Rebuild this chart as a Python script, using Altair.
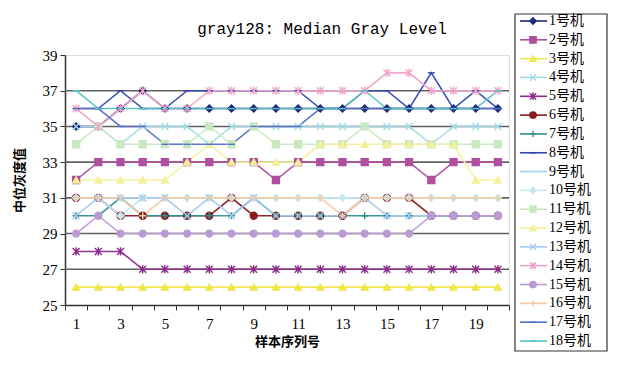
import altair as alt
import pandas as pd

samples = list(range(1, 21))
series_names = [f"{i}号机" for i in range(1, 19)]
chart_title = "gray128: Median Gray Level"

s1 = [35, 35, 36, 37, 36, 36, 36, 36, 36, 36, 36, 36, 36, 36, 36, 36, 36, 36, 36, 36]
s2 = [32, 33, 33, 33, 33, 33, 33, 33, 33, 32, 33, 33, 33, 33, 33, 33, 32, 33, 33, 33]
s3 = [26, 26, 26, 26, 26, 26, 26, 26, 26, 26, 26, 26, 26, 26, 26, 26, 26, 26, 26, 26]
s4 = [35, 35, 34, 35, 35, 35, 34, 35, 35, 35, 35, 35, 35, 35, 35, 35, 34, 35, 35, 35]
s5 = [28, 28, 28, 27, 27, 27, 27, 27, 27, 27, 27, 27, 27, 27, 27, 27, 27, 27, 27, 27]
s6 = [31, 31, 30, 30, 30, 30, 30, 31, 30, 30, 30, 30, 30, 31, 31, 31, 30, 30, 30, 30]
s7 = [30, 30, 31, 30, 30, 30, 30, 30, 31, 30, 30, 30, 30, 30, 30, 30, 30, 30, 30, 30]
s8 = [36, 36, 37, 36, 36, 37, 37, 37, 37, 37, 37, 36, 36, 37, 37, 36, 38, 36, 37, 36]
s9 = [31, 31, 31, 31, 31, 31, 31, 31, 31, 31, 31, 31, 31, 31, 31, 31, 31, 31, 31, 31]
s10 = [31, 31, 30, 31, 31, 31, 31, 31, 31, 31, 31, 31, 31, 31, 31, 31, 31, 31, 31, 31]
s11 = [34, 35, 34, 34, 34, 34, 35, 34, 35, 34, 34, 34, 34, 35, 34, 34, 34, 34, 34, 34]
s12 = [32, 32, 32, 32, 32, 33, 34, 33, 33, 33, 33, 34, 34, 34, 34, 34, 34, 34, 32, 32]
s13 = [30, 31, 31, 31, 31, 30, 31, 30, 31, 30, 30, 30, 30, 31, 30, 30, 30, 30, 30, 30]
s14 = [36, 35, 36, 37, 36, 36, 37, 37, 37, 37, 37, 37, 37, 37, 38, 38, 37, 37, 37, 37]
s15 = [29, 30, 29, 29, 29, 29, 29, 29, 29, 29, 29, 29, 29, 29, 29, 29, 30, 30, 30, 30]
s16 = [31, 31, 31, 30, 31, 31, 31, 31, 31, 31, 31, 31, 30, 31, 31, 31, 31, 31, 31, 31]
s17 = [36, 36, 35, 35, 34, 34, 34, 34, 35, 35, 35, 36, 36, 36, 36, 36, 36, 36, 36, 36]
s18 = [37, 36, 36, 36, 36, 36, 36, 36, 36, 36, 36, 36, 36, 37, 36, 36, 36, 36, 36, 37]

all_series = [s1, s2, s3, s4, s5, s6, s7, s8, s9, s10, s11, s12, s13, s14, s15, s16, s17, s18]

y_ticks = [25, 27, 29, 31, 33, 35, 37, 39]
grid_levels = [27, 29, 31, 33, 35, 37]

colors = ["#1f2a78", "#b04f9f", "#eee84a", "#9edbe6", "#8c2a8c", "#8b1c1c",
          "#2c9090", "#3344b0", "#93d3f2", "#c4e8f0", "#c9e8c2", "#f2f09a",
          "#a6c9ef", "#f2a3c9", "#b99ad2", "#f8caa2", "#5572c8", "#55c2c8"]

X_PATH = "M-1,-1L1,1M-1,1L1,-1"
AST_PATH = "M-1,-1L1,1M-1,1L1,-1M0,-1.2L0,1.2"
PLUS_PATH = "M-1,0L1,0M0,-1L0,1"
DASH_PATH = "M-1,0L1,0"
NONE_PATH = "M0,0"
shapes = ["diamond", "square", "triangle-up", X_PATH, AST_PATH, "circle",
          PLUS_PATH, DASH_PATH, NONE_PATH, "diamond", "square", "triangle-up",
          X_PATH, AST_PATH, "circle", PLUS_PATH, DASH_PATH, DASH_PATH]

rows = []
for name, vals in zip(series_names, all_series):
    for x, v in zip(samples, vals):
        rows.append({"sample": x, "series": name, "value": v})
df = pd.DataFrame(rows)
df_pts = df[df["series"] != "9号机"]

SERIF = "Liberation Serif, Noto Sans CJK SC"
CJK = "Noto Sans CJK SC"

color_scale = alt.Scale(domain=series_names, range=colors)
shape_scale = alt.Scale(domain=series_names, range=shapes)

x_enc = alt.X(
    "sample:O",
    scale=alt.Scale(type="band", paddingInner=0, paddingOuter=0),
    axis=alt.Axis(
        title="样本序列号", titleFont=CJK, titleFontSize=13, titleFontWeight="bold",
        titleColor="#000", titlePadding=4,
        labelAngle=0, labelFont=SERIF, labelFontSize=15, labelColor="#000",
        labelExpr="datum.value % 2 == 1 ? datum.label : ''",
        labelPadding=6, tickBand="extent", tickSize=5, tickColor="#333",
        domainColor="#333", domainWidth=1.5, grid=False,
    ),
)
y_scale = alt.Scale(domain=[25, 39], nice=False, zero=False)
y_axis = alt.Axis(
    title="中位灰度值", titleFont=CJK, titleFontSize=13, titleFontWeight="bold",
    titleColor="#000", titlePadding=16,
    values=y_ticks, labelFont=SERIF, labelFontSize=15, labelColor="#000",
    labelOverlap=False, tickSize=5, tickColor="#333", domainColor="#333",
    domainWidth=1.5, grid=False, labelPadding=3,
)

grid = alt.Chart(pd.DataFrame({"g": grid_levels})).mark_rule(
    color="#606060", strokeWidth=1.6
).encode(y=alt.Y("g:Q", scale=y_scale, axis=y_axis))

lines = alt.Chart(df).mark_line(strokeWidth=1.6, opacity=0.95).encode(
    x=x_enc, y=alt.Y("value:Q", scale=y_scale, axis=y_axis),
    color=alt.Color("series:N", scale=color_scale, legend=None),
    order=alt.Order("sample:O"),
    detail="series:N",
)

points = alt.Chart(df_pts).mark_point(filled=True, size=48, strokeWidth=1.4, opacity=1).encode(
    x=alt.X("sample:O"),
    y=alt.Y("value:Q", scale=y_scale, axis=y_axis),
    fill=alt.Fill("series:N", scale=color_scale, legend=None),
    stroke=alt.Stroke("series:N", scale=color_scale, legend=None),
    shape=alt.Shape("series:N", scale=shape_scale, legend=None),
)

main = alt.layer(grid, lines, points)

# title and legend drawn as their own layers around the plot area
title_txt = alt.Chart(pd.DataFrame({"t": [chart_title]})).mark_text(
    font="Liberation Mono", fontSize=16, color="#000", align="center", baseline="middle"
).encode(x=alt.value(257), y=alt.value(-26), text="t:N")

leg_df = pd.DataFrame({"series": series_names})
leg_y = alt.Y("series:N", sort=series_names,
              scale=alt.Scale(type="point", domain=series_names, range=[-34, 286], padding=0),
              axis=None)
leg_box = alt.Chart(pd.DataFrame({"b": [0]})).mark_rect(
    fill="white", stroke="#333", strokeWidth=1.2
).encode(x=alt.value(450), x2=alt.value(542), y=alt.value(-41), y2=alt.value(296))
leg_rule = alt.Chart(leg_df).mark_rule(strokeWidth=1.6).encode(
    x=alt.value(455), x2=alt.value(482), y=leg_y,
    color=alt.Color("series:N", scale=color_scale, legend=None),
)
leg_pts = alt.Chart(leg_df[leg_df["series"] != "9号机"]).mark_point(
    filled=True, size=40, strokeWidth=1.4, opacity=1
).encode(
    x=alt.value(468), y=leg_y,
    fill=alt.Fill("series:N", scale=color_scale, legend=None),
    stroke=alt.Stroke("series:N", scale=color_scale, legend=None),
    shape=alt.Shape("series:N", scale=shape_scale, legend=None),
)
leg_txt = alt.Chart(leg_df).mark_text(
    align="left", baseline="middle", font=SERIF, fontSize=14, color="#000"
).encode(x=alt.value(484), y=leg_y, text="series:N")

legend = alt.layer(title_txt, leg_box, leg_rule, leg_pts, leg_txt)

chart = alt.layer(main, legend).resolve_scale(y="independent").properties(
    width=444, height=250,
).configure_view(stroke=None).configure(background="white")

chart.save("out.html", embed_options={"renderer": "svg", "actions": False})
